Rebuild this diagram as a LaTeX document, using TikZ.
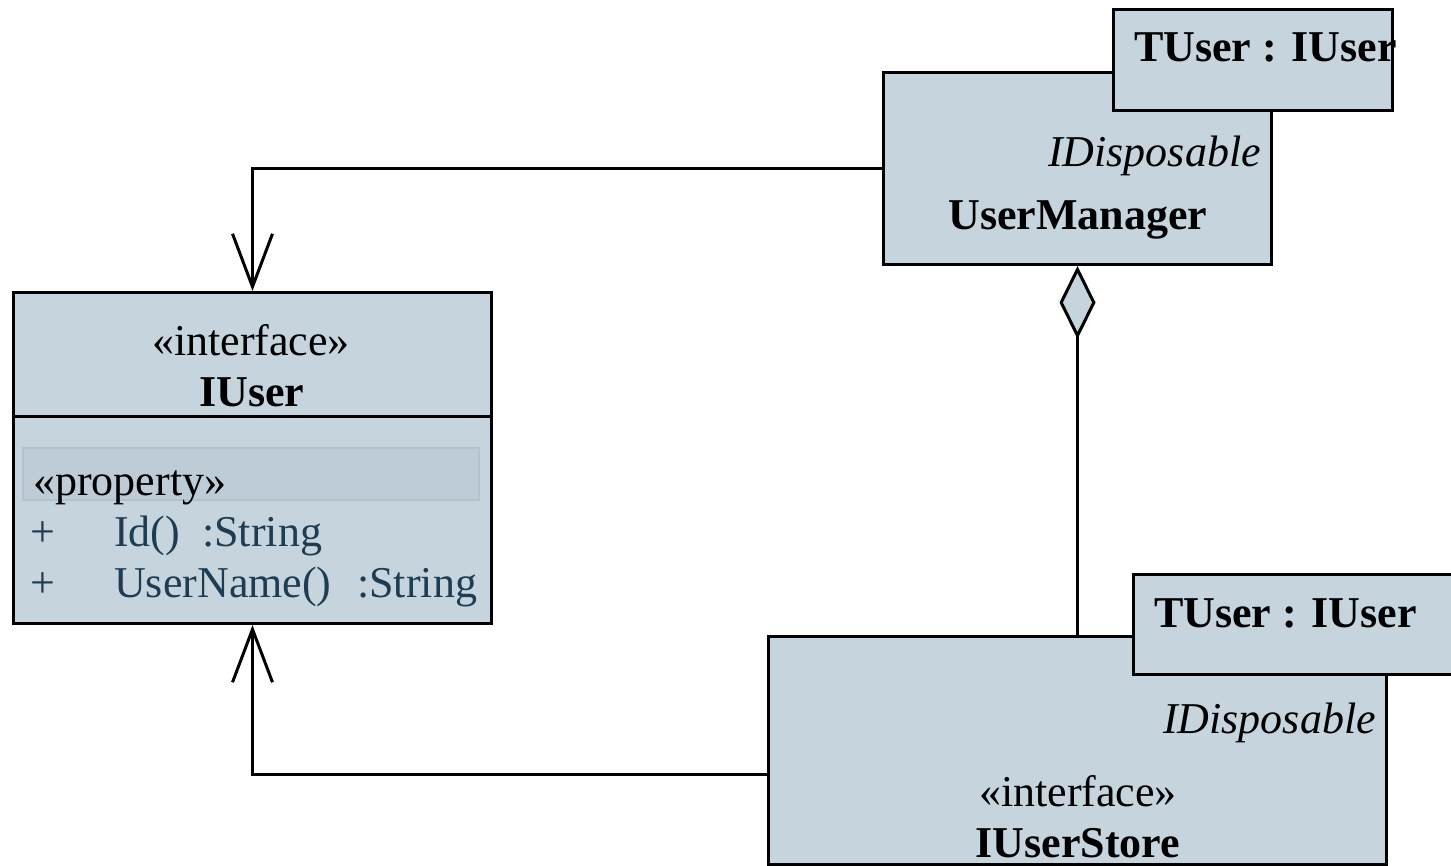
\documentclass[tikz,border=0pt]{standalone}
\usepackage{fontspec}
\setmainfont{Liberation Serif}
\usetikzlibrary{arrows.meta}
\definecolor{umlfill}{HTML}{C6D4DE}
\definecolor{bandfill}{HTML}{BDCCD7}
\definecolor{banddraw}{HTML}{B3C3CE}
\definecolor{membertext}{HTML}{1E3D52}
\tikzset{
  umlbox/.style={draw=black, fill=umlfill, line width=3pt, rectangle, inner sep=0pt, anchor=north west},
  txt/.style={inner sep=0pt, font=\fontsize{44}{52}\selectfont},
  conn/.style={line width=3pt, draw=black},
  openarrow/.style={-{Straight Barb[length=53pt,width=40pt,line width=3pt]}},
}
\begin{document}
\begin{tikzpicture}[x=1pt,y=-1pt]
\useasboundingbox (0,0) rectangle (1451,865);
\fill[white] (0,0) rectangle (1451,865);

% IUser
\node[umlbox, minimum width=478pt, minimum height=331pt] (iuser) at (12,291) {};
\draw[line width=3pt] (12,416) -- (490,416);
\node[draw=banddraw, fill=bandfill, line width=2pt, rectangle, inner sep=0pt, anchor=north west, minimum width=456pt, minimum height=52pt] (band) at (22,447) {};
\node[txt, anchor=base] (st1) at (251,355) {«interface»};
\node[txt, anchor=base, font=\fontsize{44}{52}\selectfont\bfseries] (n1) at (252,406) {IUser};
\node[txt, anchor=base west] (prop) at (33,495) {«property»};
\node[txt, anchor=base west, text=membertext] (p1) at (30,546) {+};
\node[txt, anchor=base west, text=membertext] (m1) at (114,546) {Id()};
\node[txt, anchor=base west, text=membertext] (t1) at (202,546) {:String};
\node[txt, anchor=base west, text=membertext] (p2) at (30,597) {+};
\node[txt, anchor=base west, text=membertext] (m2) at (114,597) {UserName()};
\node[txt, anchor=base west, text=membertext] (t2) at (357,597) {:String};

% UserManager
\node[umlbox, minimum width=388pt, minimum height=192pt] (um) at (882,71) {};
\node[umlbox, minimum width=279pt, minimum height=101pt] (umt) at (1112,8) {};
\node[txt, anchor=base west, font=\fontsize{44}{52}\selectfont\bfseries] (umtt) at (1134,61) {TUser : IUser};
\node[txt, anchor=base east, font=\fontsize{44}{52}\selectfont\itshape] (umi) at (1261,166) {IDisposable};
\node[txt, anchor=base, font=\fontsize{44}{52}\selectfont\bfseries] (umn) at (1078,229) {UserManager};

% IUserStore
\node[umlbox, minimum width=618pt, minimum height=228pt] (ius) at (767,635) {};
\node[umlbox, minimum width=320pt, minimum height=100pt] (iust) at (1132,573) {};
\node[txt, anchor=base west, font=\fontsize{44}{52}\selectfont\bfseries] (iustt) at (1154,627) {TUser : IUser};
\node[txt, anchor=base east, font=\fontsize{44}{52}\selectfont\itshape] (iusi) at (1376,733) {IDisposable};
\node[txt, anchor=base] (iusst) at (1078,806) {«interface»};
\node[txt, anchor=base, font=\fontsize{44}{52}\selectfont\bfseries] (iusn) at (1078,857) {IUserStore};

% Connectors
\draw[conn, openarrow] (um.west) -| (iuser.north);
\draw[conn, openarrow] ([yshift=-24pt]ius.west) -| (iuser.south);
\draw[conn, {Diamond[length=73pt,width=36pt,fill=umlfill,line width=3pt]}-] (um.south) -- (ius.north);
\end{tikzpicture}
\end{document}
